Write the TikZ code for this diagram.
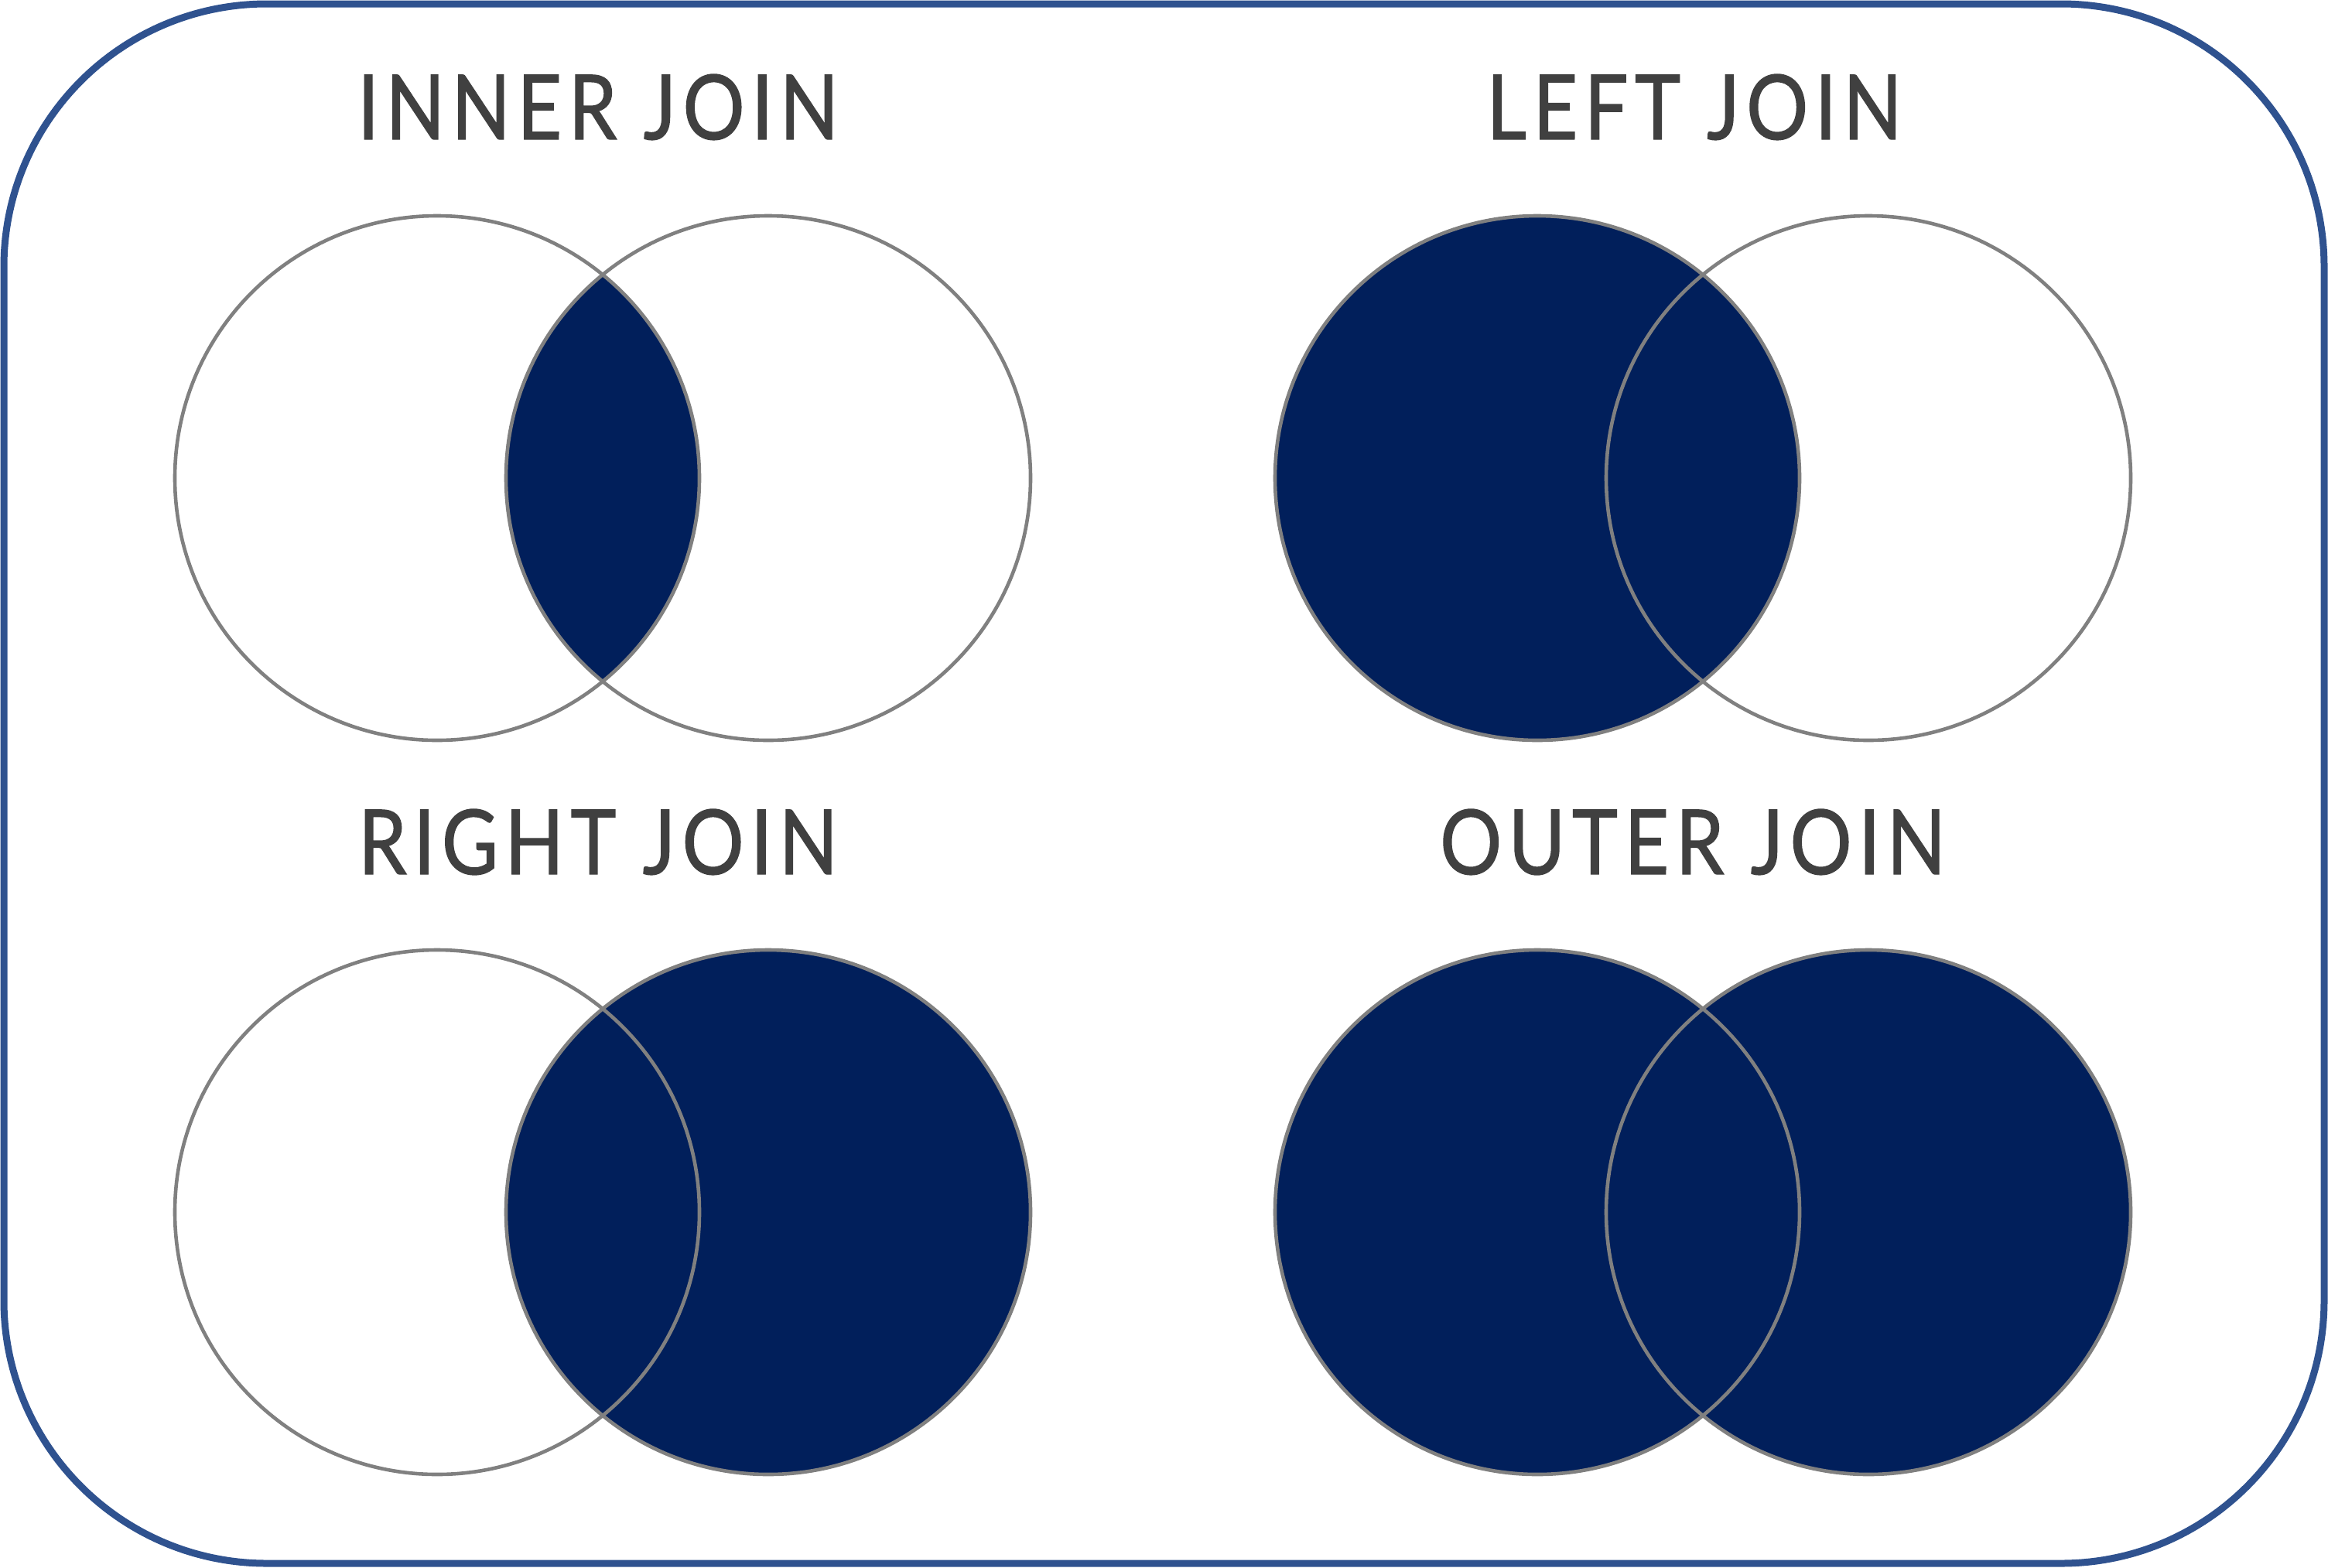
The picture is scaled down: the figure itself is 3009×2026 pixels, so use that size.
\documentclass[tikz,border=0pt]{standalone}
\usepackage{fontspec}
\setmainfont{Lato}[FakeStretch=0.86,LetterSpace=7.5,FakeBold=1.2]
\definecolor{framec}{RGB}{47,82,143}
\definecolor{fillc}{RGB}{1,31,91}
\definecolor{ringc}{RGB}{128,128,128}
\definecolor{textc}{RGB}{64,64,64}
\begin{document}
\begin{tikzpicture}[x=0.25pt,y=-0.25pt,
  title/.style={anchor=base,inner sep=0pt,text=textc,font=\fontsize{29pt}{34pt}\selectfont},
  ring/.style={draw=ringc,line width=1.15pt},
  area/.style={fill=fillc}]
\useasboundingbox (0,0) rectangle (3009,2026);
\draw[framec,line width=2.25pt,rounded corners=85pt] (5,5) rectangle (3004,2021);
% titles
\node[title] (t1) at (773,180) {INNER JOIN};
\node[title] (t2) at (2190,180) {LEFT JOIN};
\node[title] (t3) at (773,1130) {RIGHT JOIN};
\node[title] (t4) at (2188,1130) {OUTER JOIN};
% inner join
\begin{scope}
  \clip (565,618) circle[radius=339];
  \fill[area] (993,618) circle[radius=339];
\end{scope}
\draw[ring] (565,618) circle[radius=339];
\draw[ring] (993,618) circle[radius=339];
% left join
\fill[area] (1987,618) circle[radius=339];
\draw[ring] (1987,618) circle[radius=339];
\draw[ring] (2415,618) circle[radius=339];
% right join
\fill[area] (993,1567) circle[radius=339];
\draw[ring] (565,1567) circle[radius=339];
\draw[ring] (993,1567) circle[radius=339];
% outer join
\fill[area] (1987,1567) circle[radius=339];
\fill[area] (2415,1567) circle[radius=339];
\draw[ring] (1987,1567) circle[radius=339];
\draw[ring] (2415,1567) circle[radius=339];
\end{tikzpicture}
\end{document}
